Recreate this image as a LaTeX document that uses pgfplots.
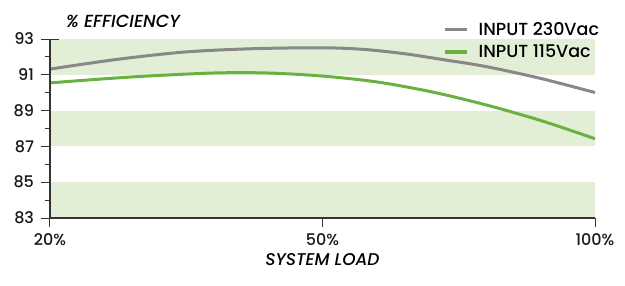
\documentclass[border=0pt]{standalone}
\usepackage{fontspec}
\setmainfont{Poppins}[UprightFont={* Medium}, ItalicFont={* Medium Italic}]
\usepackage{pgfplots}
\pgfplotsset{compat=1.18}
\definecolor{bandc}{HTML}{E2EFD6}
\definecolor{grayc}{HTML}{888888}
\definecolor{greenc}{HTML}{69B23F}
\definecolor{axc}{HTML}{333333}
\begin{document}
\begin{tikzpicture}[x=1pt,y=1pt]
\useasboundingbox (0,0) rectangle (625,285);
\begin{axis}[
  at={(50pt,67pt)}, anchor=south west,
  scale only axis, width=545pt, height=179pt,
  xmin=0, xmax=2, ymin=83, ymax=93,
  axis lines=left, axis line style={axc, line width=1.2pt, -},
  axis on top,
  xtick={0,1,2}, xticklabels={20\%,50\%,100\%},
  ytick={83,85,...,93}, minor ytick={84,86,...,92},
  extra y ticks={93}, extra y tick labels={},
  extra tick style={major tick length=18pt, tick align=center},
  tick align=outside, tick style={axc, line width=1pt},
  major tick length=8.5pt, minor tick length=5pt,
  tick label style={font=\fontsize{16}{17}\selectfont, text=black!90},
  yticklabel style={xshift=-4pt},
  xticklabel style={yshift=-4pt},
  /pgf/number format/assume math mode=true,
  xlabel={\itshape SYSTEM LOAD},
  xlabel style={font=\fontsize{17}{18}\selectfont, at={(axis description cs:0.5,-0.235)}, anchor=center},
  ylabel={\itshape \% EFFICIENCY},
  ylabel style={font=\fontsize{17.5}{18}\selectfont, rotate=-90, at={(axis description cs:0.134,1.098)}, anchor=center},
  legend style={draw=none, fill=none, at={(axis description cs:0.721,0.9916)}, anchor=west,
    inner sep=0pt, row sep=8pt, column sep=10pt,
    nodes={inner sep=0pt, font=\fontsize{17.5}{18}\selectfont}},
  legend cell align=left,
  legend image code/.code={\draw[#1, line width=3.5pt] (0pt,0pt) -- (22pt,0pt);},
  clip=false,
]
\addplot[draw=none, fill=bandc, forget plot] coordinates {(0,91) (2,91) (2,93) (0,93)} -- cycle;
\addplot[draw=none, fill=bandc, forget plot] coordinates {(0,87) (2,87) (2,89) (0,89)} -- cycle;
\addplot[draw=none, fill=bandc, forget plot] coordinates {(0,83) (2,83) (2,85) (0,85)} -- cycle;
\addplot[grayc, line width=3pt, smooth, tension=0.5] coordinates {
 (0,91.32) (0.25,91.87) (0.5,92.28) (0.75,92.46) (1.0,92.51)
 (1.15,92.42) (1.3,92.18) (1.45,91.83) (1.6,91.46) (1.8,90.80) (2,90.01)};
\addlegendentry{INPUT 230Vac}
\addplot[greenc, line width=3pt, smooth, tension=0.5] coordinates {
 (0,90.55) (0.3,90.88) (0.6,91.10) (0.8,91.10) (1.0,90.93)
 (1.2,90.60) (1.4,90.05) (1.6,89.32) (1.8,88.45) (2,87.43)};
\addlegendentry{INPUT 115Vac}
\end{axis}
\end{tikzpicture}
\end{document}
